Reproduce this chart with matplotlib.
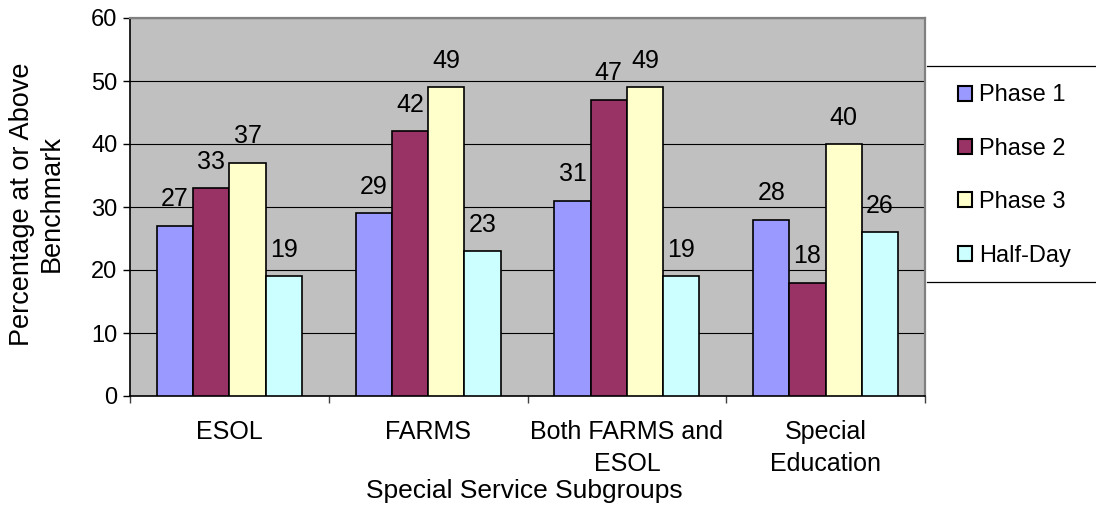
import matplotlib
matplotlib.use("Agg")
import matplotlib.pyplot as plt
from matplotlib.patches import Patch
from matplotlib.lines import Line2D
import numpy as np

plt.rcParams['font.family'] = ['Liberation Sans', 'DejaVu Sans']

categories = ["ESOL", "FARMS", "Both FARMS and\nESOL", "Special\nEducation"]
series_names = ["Phase 1", "Phase 2", "Phase 3", "Half-Day"]
phase1 = [27, 29, 31, 28]
phase2 = [33, 42, 47, 18]
phase3 = [37, 49, 49, 40]
half_day = [19, 23, 19, 26]
y_ticks = [0, 10, 20, 30, 40, 50, 60]

series = [phase1, phase2, phase3, half_day]
colors = ["#9999FF", "#993366", "#FFFFCC", "#CCFFFF"]

W, H = 1096, 508
fig = plt.figure(figsize=(W / 100, H / 100), dpi=100)
ax = fig.add_axes([130 / W, 1 - 396 / H, 795 / W, 378 / H])
ax.set_facecolor("#C0C0C0")

x = np.arange(len(categories))
bw = 0.1825
for k, (vals, col) in enumerate(zip(series, colors)):
    pos = x + (k - 1.5) * bw
    ax.bar(pos, vals, width=bw, color=col, edgecolor="black",
           linewidth=1.2, zorder=3, label=series_names[k])
    for xi, v in zip(pos, vals):
        ax.annotate(str(v), (xi, v), xytext=(0, 14), textcoords="offset points",
                    ha="center", va="baseline", fontsize=18, zorder=4)

ax.set_xlim(-0.5, len(categories) - 0.5)
ax.set_ylim(0, 60)
ax.set_yticks(y_ticks)
ax.set_yticklabels([str(t) for t in y_ticks], fontsize=17)
ax.yaxis.grid(True, color="black", linewidth=0.8, zorder=1)
ax.set_axisbelow(True)

# category boundaries carry tick marks, labels sit at the centers
ax.set_xticks(np.arange(len(categories) + 1) - 0.5)
ax.set_xticklabels([])
ax.set_xticks(x, minor=True)
ax.set_xticklabels(categories, minor=True, fontsize=18, linespacing=1.42)
ax.tick_params(axis="x", which="minor", length=0, pad=17)
ax.tick_params(axis="x", which="major", length=5, width=1, color="#404040")
ax.tick_params(axis="y", length=5, width=1, pad=4)

for side in ("left", "bottom"):
    ax.spines[side].set_color("black")
    ax.spines[side].set_linewidth(1.2)
for side in ("top", "right"):
    ax.spines[side].set_color("#808080")
    ax.spines[side].set_linewidth(1.6)

fig.text(524 / W, 1 - 498 / H, "Special Service Subgroups", ha="center",
         va="baseline", fontsize=19)
fig.text(37 / W, 1 - 204 / H, "Percentage at or Above\nBenchmark", ha="center",
         va="center", rotation=90, fontsize=19.5, multialignment="center",
         linespacing=1.15)

# legend box: top and bottom rules running off the right edge
for yy in (66, 282):
    fig.add_artist(Line2D([927 / W, 1.0], [1 - yy / H, 1 - yy / H],
                          color="black", linewidth=0.9,
                          transform=fig.transFigure))
handles = [Patch(facecolor=c, edgecolor="black", linewidth=1.5) for c in colors]
fig.legend(handles, series_names, loc="center left",
           bbox_to_anchor=(958 / W, 1 - 175.5 / H), frameon=False,
           fontsize=17, handlelength=0.6, handleheight=0.6,
           handletextpad=0.3, labelspacing=1.33, borderpad=0,
           borderaxespad=0)

fig.savefig("out.png", dpi=100)
